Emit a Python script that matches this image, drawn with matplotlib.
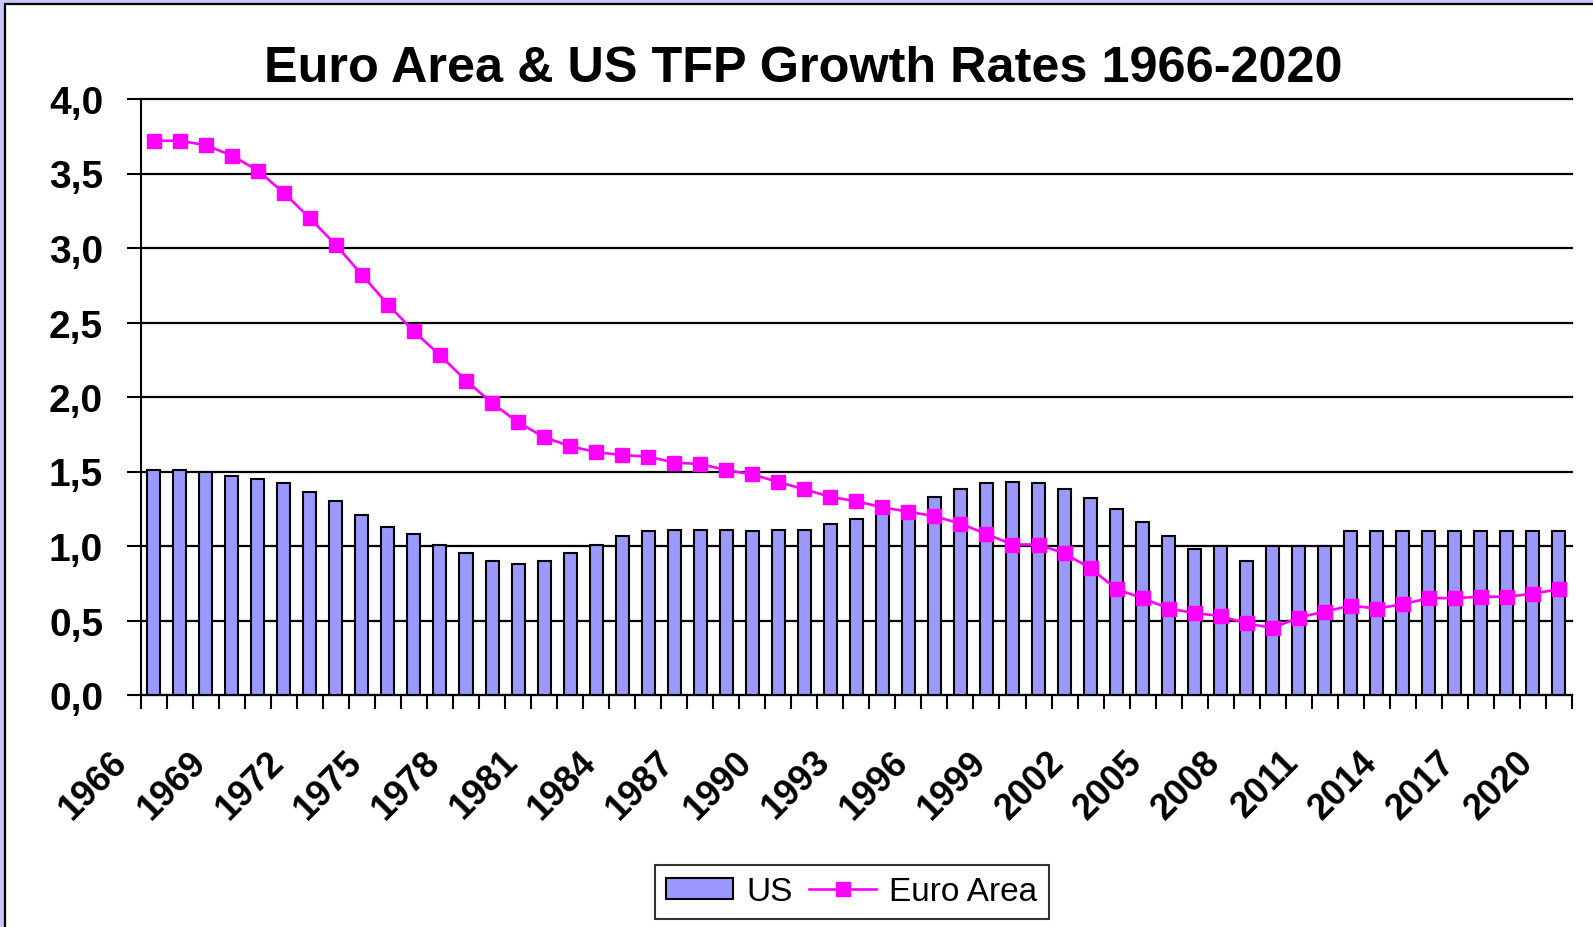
import numpy as np
import matplotlib
matplotlib.use("Agg")
import matplotlib.pyplot as plt
import matplotlib.transforms as mtransforms
from matplotlib.patches import Rectangle

plt.rcParams['font.family'] = ['Liberation Sans', 'DejaVu Sans']

# data (annual TFP growth, %)
years = list(range(1966, 2021))
us = [1.51, 1.51, 1.50, 1.47, 1.45, 1.42, 1.36, 1.30, 1.21, 1.13,
      1.08, 1.01, 0.95, 0.90, 0.88, 0.90, 0.95, 1.01, 1.07, 1.10,
      1.11, 1.11, 1.11, 1.10, 1.11, 1.11, 1.15, 1.18, 1.22, 1.26,
      1.33, 1.38, 1.42, 1.43, 1.42, 1.38, 1.32, 1.25, 1.16, 1.07,
      0.98, 1.00, 0.90, 1.00, 1.00, 1.00, 1.10, 1.10, 1.10, 1.10,
      1.10, 1.10, 1.10, 1.10, 1.10]
euro = [3.72, 3.72, 3.69, 3.62, 3.52, 3.37, 3.20, 3.02, 2.82, 2.62,
        2.44, 2.28, 2.11, 1.96, 1.83, 1.73, 1.67, 1.63, 1.61, 1.60,
        1.56, 1.55, 1.51, 1.48, 1.43, 1.38, 1.33, 1.30, 1.26, 1.23,
        1.20, 1.15, 1.08, 1.01, 1.01, 0.95, 0.85, 0.71, 0.65, 0.58,
        0.55, 0.53, 0.48, 0.45, 0.52, 0.56, 0.60, 0.58, 0.61, 0.65,
        0.65, 0.66, 0.66, 0.68, 0.71]
yticks = [0.0, 0.5, 1.0, 1.5, 2.0, 2.5, 3.0, 3.5, 4.0]

W, H = 1593, 928
fig = plt.figure(figsize=(W / 100, H / 100), dpi=100)
fig.patch.set_facecolor('#c8c8f8')

# white chart area with black frame, cut off at right/bottom
frame = Rectangle((5 / W, -0.1), 1.2, 1.1 - 5 / H, transform=fig.transFigure,
                  facecolor='white', edgecolor='black', linewidth=1.6, zorder=-10)
fig.add_artist(frame)

ax = fig.add_axes([140.7 / W, 1 - 696 / H, (1572 - 140.7) / W, (696 - 100) / H])
ax.set_facecolor('none')

x = np.arange(len(years))
bars = ax.bar(x, us, width=0.5, color='#9999ff', edgecolor='black', linewidth=1.5,
              label='US', zorder=2)
line, = ax.plot(x, euro, color='#ff00ff', linewidth=1.9, marker='s', markersize=10.5,
                markeredgecolor='#ff00ff', label='Euro Area', zorder=3)

ax.set_xlim(-0.5, len(years) - 0.5)
ax.set_ylim(0, 4.0)

# y axis
ax.set_yticks(yticks)
ax.set_yticklabels([f"{v:.1f}".replace('.', ',') for v in yticks],
                   fontsize=28, fontweight='bold')
ax.tick_params(axis='y', direction='out', length=10, width=1.5, pad=17)
ax.yaxis.grid(True, color='black', linewidth=1.6)
ax.set_axisbelow(True)
for gl in ax.get_ygridlines():
    gl.set_clip_on(False)

# x axis: boundary ticks + rotated year labels every 3 years
ax.set_xticks(np.arange(-0.5, len(years), 1.0), minor=True)
ax.set_xticks(x[::3])
ax.set_xticklabels([str(y) for y in years[::3]], fontsize=26, fontweight='bold',
                   rotation=45, ha='right', va='top')
ax.tick_params(axis='x', which='minor', direction='out', length=10, width=1.5)
ax.tick_params(axis='x', which='major', length=0, pad=35)
offset = mtransforms.ScaledTranslation(-0.19, 0, fig.dpi_scale_trans)
for lab in ax.get_xticklabels():
    lab.set_transform(lab.get_transform() + offset)

for side in ['top', 'right']:
    ax.spines[side].set_visible(False)
ax.spines['left'].set_linewidth(1.5)
ax.spines['bottom'].set_linewidth(1.5)

fig.text(803 / W, 1 - 81.7 / H, 'Euro Area & US TFP Growth Rates 1966-2020',
         fontsize=36.3, fontweight='bold', ha='center', va='baseline')

leg = fig.legend([bars, line], ['US', 'Euro Area'], loc='center',
                 bbox_to_anchor=(852 / W, 1 - 893 / H), ncol=2,
                 fontsize=24, frameon=True, fancybox=False, handlelength=2.0,
                 handleheight=0.6, handletextpad=0.4, columnspacing=0.5,
                 borderpad=0.35, borderaxespad=0)
leg.get_frame().set_edgecolor('black')
leg.get_frame().set_linewidth(1.5)

fig.savefig('out.png', dpi=100, facecolor=fig.get_facecolor())
